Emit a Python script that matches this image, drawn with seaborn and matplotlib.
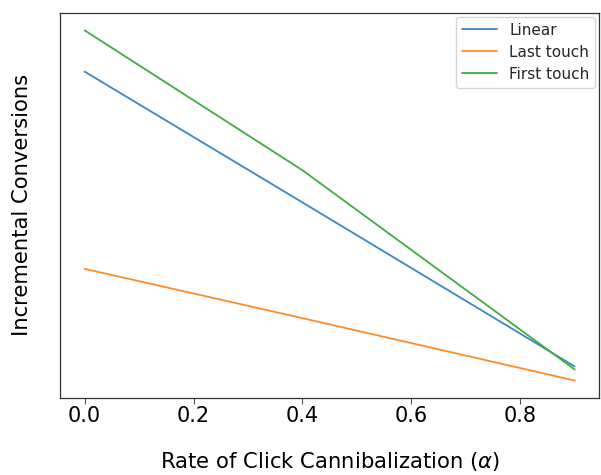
import numpy as np
import pandas as pd
import seaborn as sns
import matplotlib.pyplot as plt

alpha = [0.0, 0.4, 0.9]
linear = [328, 198, 35]
last_touch = [132, 83, 21]
first_touch = [369, 230, 32]


def build_frame() -> pd.DataFrame:
    rows = []
    for name, vals in (('Linear', linear), ('Last touch', last_touch), ('First touch', first_touch)):
        for a, v in zip(alpha, vals):
            rows.append((a, v, name))
    return pd.DataFrame(rows, columns=('alpha', 'conversions', 'model'))


def main():
    sns.set_style('white')
    plt.rcParams['font.family'] = ['DejaVu Sans']
    df = build_frame()

    fig = plt.figure(figsize=(6.01, 4.75), dpi=100)
    ax = fig.add_axes([0.1, 0.162, 0.897, 0.811])
    sns.lineplot(data=df, x='alpha', y='conversions', hue='model', ax=ax,
                 palette=['#3a87c6', '#ff8c2a', '#40ad40'], linewidth=1.3)

    ax.set_yticks([])
    ax.tick_params(axis='x', labelsize=15, bottom=True, length=4, pad=2,
                   color='#555555', labelcolor='black')
    ax.set_xlabel(r'Rate of Click Cannibalization ($\alpha$)', fontsize=15.2,
                  labelpad=17, color='black')
    ax.set_ylabel('Incremental Conversions', fontsize=15.2, labelpad=20, color='black')
    for s in ax.spines.values():
        s.set_color('#333333')
        s.set_linewidth(0.9)
    ax.legend(title=None, loc='upper right', fontsize=11, labelspacing=0.45,
              handlelength=2.3, borderaxespad=0.25)

    plt.savefig('out.png', dpi=100)


if __name__ == '__main__':
    main()
